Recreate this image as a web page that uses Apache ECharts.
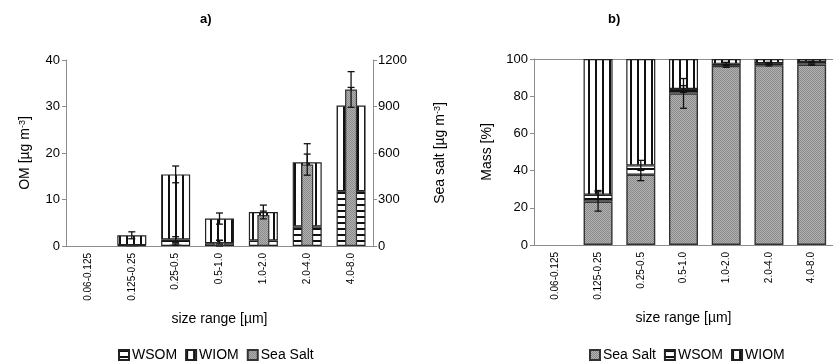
<!DOCTYPE html>
<html>
<head>
<meta charset="utf-8">
<script src="https://cdn.jsdelivr.net/npm/echarts@6/dist/echarts.min.js"></script>
<style>
  html, body { margin: 0; padding: 0; background: #fff; }
  #chart { width: 833px; height: 361px; }
</style>
</head>
<body>
<div id="chart"></div>
<script>
// size classes
const categories = ["0.06-0.125", "0.125-0.25", "0.25-0.5", "0.5-1.0", "1.0-2.0", "2.0-4.0", "4.0-8.0"];

// panel a: concentrations (OM in µg m-3 left axis, sea salt right axis)
const wsomA = [null, 0.15, 1.4, 0.6, 1.2, 4.2, 11.8];
const wiomA = [null, 2.15, 14.0, 5.3, 6.1, 13.8, 18.4];
const seaSaltA = [null, 0.7, 9, 25, 200, 525, 1010];
const omErrA = [null, 0.75, 1.8, 1.2, 1.5, 4.0, 3.9];
const wsomErrA = [null, 0, 0.6, 0.6, 0.5, 1.0, 2.0];
const seaSaltErrA = [null, 0, 5, 12, 25, 68, 115];

// panel b: mass fractions (%)
const seaSaltB = [null, 23.4, 37.8, 81.5, 96.3, 96.7, 97.0];
const wsomB = [null, 3.6, 5.0, 2.4, 1.1, 1.1, 1.4];
const wiomB = [null, 73.0, 57.2, 16.1, 2.6, 2.2, 1.6];
const seaSaltErrB = [null, 5.2, 3.2, 8.0, 0.8, 0.4, 0.3];
const wsomErrB = [null, 2.3, 2.7, 1.8, 0.8, 0.4, 0.3];

const FONT = "Liberation Sans, Arial, sans-serif";

function makePattern(w, h, draw) {
  const c = document.createElement("canvas");
  c.width = w;
  c.height = h;
  const ctx = c.getContext("2d");
  draw(ctx);
  return { image: c, repeat: "repeat" };
}

const hLines = makePattern(6, 6, (ctx) => {
  ctx.fillStyle = "#fff";
  ctx.fillRect(0, 0, 6, 6);
  ctx.fillStyle = "#111";
  ctx.fillRect(0, 0, 6, 2);
});
const vLines = makePattern(7, 7, (ctx) => {
  ctx.fillStyle = "#fff";
  ctx.fillRect(0, 0, 7, 7);
  ctx.fillStyle = "#111";
  ctx.fillRect(0, 0, 2, 7);
});
const greyDots = makePattern(2, 2, (ctx) => {
  ctx.fillStyle = "#b2b2b2";
  ctx.fillRect(0, 0, 2, 2);
  ctx.fillStyle = "#8a8a8a";
  ctx.fillRect(0, 0, 1, 1);
  ctx.fillRect(1, 1, 1, 1);
});

function errRows(centers, errs) {
  const rows = [];
  centers.forEach((c, i) => {
    if (c == null || !errs[i]) return;
    rows.push([i, c - errs[i], c + errs[i]]);
  });
  return rows;
}

function renderErr(params, api) {
  const x = api.value(0);
  const lo = api.coord([x, api.value(1)]);
  const hi = api.coord([x, api.value(2)]);
  const w = 3.5;
  const style = { stroke: "#111", lineWidth: 1.3, fill: null };
  return {
    type: "group",
    children: [
      { type: "line", shape: { x1: hi[0], y1: hi[1], x2: lo[0], y2: lo[1] }, style },
      { type: "line", shape: { x1: hi[0] - w, y1: hi[1], x2: hi[0] + w, y2: hi[1] }, style },
      { type: "line", shape: { x1: lo[0] - w, y1: lo[1], x2: lo[0] + w, y2: lo[1] }, style },
    ],
  };
}

const omTopA = wsomA.map((v, i) => (v == null ? null : v + wiomA[i]));
const wsomTopB = seaSaltB.map((v, i) => (v == null ? null : v + wsomB[i]));

const axisGrey = { color: "#8c8c8c", width: 1 };
const tickLabel = { color: "#000", fontFamily: FONT, fontSize: 13, formatter: (v) => String(v) };
const catLabel = { color: "#000", fontFamily: FONT, fontSize: 10, rotate: 90, margin: 7, interval: 0 };
const nameStyle = {
  color: "#000",
  fontFamily: FONT,
  fontSize: 14,
  rich: { sup: { fontSize: 9, verticalAlign: "top", fontFamily: FONT, color: "#000" } },
};

const chart = echarts.init(document.getElementById("chart"));

const option = {
  animation: false,
  backgroundColor: "#fff",
  title: [
    { text: "a)", left: 195, top: 8, textStyle: { fontFamily: FONT, fontSize: 13, fontWeight: "bold", color: "#000" } },
    { text: "b)", left: 603, top: 8, textStyle: { fontFamily: FONT, fontSize: 13, fontWeight: "bold", color: "#000" } },
  ],
  legend: [
    {
      data: ["WSOM", "WIOM", "Sea Salt"],
      left: 113,
      top: 343,
      icon: "rect",
      itemWidth: 10,
      itemHeight: 10,
      itemGap: 8,
      selectedMode: false,
      textStyle: { fontFamily: FONT, fontSize: 14, color: "#000", padding: [0, 0, 0, -2] },
    },
    {
      data: ["Sea Salt", "WSOM", "WIOM"],
      left: 584,
      top: 343,
      icon: "rect",
      itemWidth: 10,
      itemHeight: 10,
      itemGap: 8,
      selectedMode: false,
      textStyle: { fontFamily: FONT, fontSize: 14, color: "#000", padding: [0, 0, 0, -2] },
    },
  ],
  grid: [
    { left: 66, top: 60, width: 307, height: 186 },
    { left: 534, top: 59, width: 308, height: 186 },
  ],
  xAxis: [
    {
      type: "category",
      gridIndex: 0,
      data: categories,
      name: "size range [µm]",
      nameLocation: "middle",
      nameGap: 66,
      nameTextStyle: nameStyle,
      axisLine: { lineStyle: axisGrey },
      axisTick: { length: 4, lineStyle: axisGrey },
      axisLabel: catLabel,
    },
    {
      type: "category",
      gridIndex: 0,
      data: categories,
      show: false,
    },
    {
      type: "category",
      gridIndex: 1,
      data: categories,
      name: "size range [µm]",
      nameLocation: "middle",
      nameGap: 66,
      nameTextStyle: nameStyle,
      axisLine: { lineStyle: axisGrey },
      axisTick: { length: 4, lineStyle: axisGrey },
      axisLabel: catLabel,
    },
    {
      type: "category",
      gridIndex: 1,
      position: "top",
      data: categories,
      axisLine: { lineStyle: axisGrey },
      axisTick: { show: false },
      axisLabel: { show: false },
    },
  ],
  yAxis: [
    {
      type: "value",
      gridIndex: 0,
      min: 0,
      max: 40,
      interval: 10,
      name: "OM [µg m{sup|-3}]",
      nameLocation: "middle",
      nameGap: 34,
      nameTextStyle: nameStyle,
      axisLine: { show: true, lineStyle: axisGrey },
      axisTick: { show: true, length: 4, lineStyle: axisGrey },
      axisLabel: Object.assign({ margin: 6 }, tickLabel),
      splitLine: { show: false },
    },
    {
      type: "value",
      gridIndex: 0,
      position: "right",
      min: 0,
      max: 1200,
      interval: 300,
      name: "Sea salt [µg m{sup|-3}]",
      nameLocation: "middle",
      nameGap: 60,
      nameTextStyle: nameStyle,
      axisLine: { show: true, lineStyle: axisGrey },
      axisTick: { show: true, length: 4, lineStyle: axisGrey },
      axisLabel: Object.assign({ margin: 5 }, tickLabel),
      splitLine: { show: false },
    },
    {
      type: "value",
      gridIndex: 1,
      min: 0,
      max: 100,
      interval: 20,
      name: "Mass [%]",
      nameLocation: "middle",
      nameGap: 40,
      nameTextStyle: nameStyle,
      axisLine: { show: true, lineStyle: axisGrey },
      axisTick: { show: true, length: 4, lineStyle: axisGrey },
      axisLabel: Object.assign({ margin: 6 }, tickLabel),
      splitLine: { show: false },
    },
  ],
  series: [
    // panel a
    {
      name: "WSOM",
      type: "bar",
      xAxisIndex: 0,
      yAxisIndex: 0,
      stack: "omA",
      barWidth: 29,
      z: 2,
      itemStyle: { color: hLines, borderColor: "#222", borderWidth: 1.2 },
      data: wsomA,
    },
    {
      name: "WIOM",
      type: "bar",
      xAxisIndex: 0,
      yAxisIndex: 0,
      stack: "omA",
      barWidth: 29,
      z: 2,
      itemStyle: { color: vLines, borderColor: "#222", borderWidth: 1.2 },
      data: wiomA,
    },
    {
      name: "omErrA",
      type: "custom",
      xAxisIndex: 0,
      yAxisIndex: 0,
      z: 3,
      renderItem: renderErr,
      encode: { x: 0, y: [1, 2] },
      data: errRows(omTopA, omErrA),
    },
    {
      name: "wsomErrA",
      type: "custom",
      xAxisIndex: 0,
      yAxisIndex: 0,
      z: 3,
      renderItem: renderErr,
      encode: { x: 0, y: [1, 2] },
      data: errRows(wsomA, wsomErrA),
    },
    {
      name: "Sea Salt",
      type: "bar",
      xAxisIndex: 1,
      yAxisIndex: 1,
      barWidth: 12,
      z: 4,
      itemStyle: { color: greyDots, borderColor: "#333", borderWidth: 1.2 },
      data: seaSaltA,
    },
    {
      name: "ssErrA",
      type: "custom",
      xAxisIndex: 1,
      yAxisIndex: 1,
      z: 5,
      renderItem: renderErr,
      encode: { x: 0, y: [1, 2] },
      data: errRows(seaSaltA, seaSaltErrA),
    },
    // panel b
    {
      name: "Sea Salt",
      type: "bar",
      xAxisIndex: 2,
      yAxisIndex: 2,
      stack: "massB",
      barWidth: 29,
      itemStyle: { color: greyDots, borderColor: "#333", borderWidth: 1.4 },
      data: seaSaltB,
    },
    {
      name: "WSOM",
      type: "bar",
      xAxisIndex: 2,
      yAxisIndex: 2,
      stack: "massB",
      barWidth: 29,
      itemStyle: { color: hLines, borderColor: "#222", borderWidth: 1.2 },
      data: wsomB,
    },
    {
      name: "WIOM",
      type: "bar",
      xAxisIndex: 2,
      yAxisIndex: 2,
      stack: "massB",
      barWidth: 29,
      itemStyle: { color: vLines, borderColor: "#222", borderWidth: 1.2 },
      data: wiomB,
    },
    {
      name: "ssErrB",
      type: "custom",
      xAxisIndex: 2,
      yAxisIndex: 2,
      z: 5,
      renderItem: renderErr,
      encode: { x: 0, y: [1, 2] },
      data: errRows(seaSaltB, seaSaltErrB),
    },
    {
      name: "wsomErrB",
      type: "custom",
      xAxisIndex: 2,
      yAxisIndex: 2,
      z: 5,
      renderItem: renderErr,
      encode: { x: 0, y: [1, 2] },
      data: errRows(wsomTopB, wsomErrB),
    },
  ],
};

chart.setOption(option);
</script>
</body>
</html>
